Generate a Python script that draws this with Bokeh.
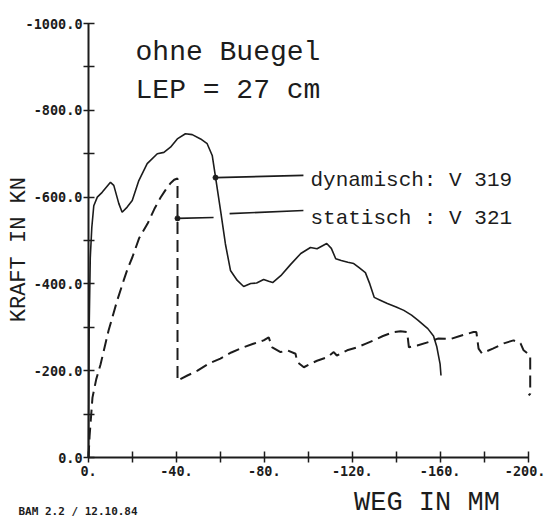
import math
from bokeh.plotting import figure
from bokeh.models import Range1d, FixedTicker, Label
from bokeh.embed import file_html
from bokeh.resources import INLINE

# ---------------- data ----------------
# dynamisch: V 319 (solid)
dyn_x = [0, -0.3, -0.8, -1.5, -2.4, -4.0, -6.2, -10.0, -11.5, -13.8, -15.3, -17.6,
         -19.9, -22.9, -26.7, -31.3, -34.3, -37.3, -40.4, -44.1, -47.2, -51.0,
         -54.0, -56.3, -57.8, -60.1, -62.3, -64.6, -67.7, -70.6, -73.8, -76.5,
         -79.7, -82.0, -83.8, -87.5, -92.0, -96.6, -101.0, -104.0, -108.4,
         -110.5, -112.5, -115.0, -118.0, -120.7, -123.0, -126.0, -128.0, -130.0,
         -133.0, -136.0, -140.0, -143.5, -147.0, -150.0, -154.4, -157.0, -158.5,
         -160.0, -160.4]
dyn_y = [0, -300, -460, -530, -580, -600, -611, -634, -627, -585, -565, -577,
         -592, -638, -677, -700, -703, -715, -734, -746, -744, -734,
         -723, -696, -646, -569, -492, -431, -408, -394, -401, -402,
         -410, -406, -403, -419, -445, -470, -484, -481, -493,
         -482, -458, -454, -450, -447, -438, -426, -400, -369,
         -362, -355, -347, -339, -328, -316, -297, -280, -255,
         -215, -189]

# statisch : V 321 (dashed)
sta_x = [0, -0.5, -1.8, -3.5, -5.5, -9.1, -13.0, -16.0, -17.8, -20.0, -23.0,
         -26.9, -30.0, -32.8, -35.0, -37.3, -39.0, -40.5, -40.5, -41.5, -45.0,
         -49.6, -54.6, -60.0, -65.0, -70.6, -75.0, -79.7, -82.0, -83.6, -87.4,
         -90.4, -94.2, -95.0, -98.0, -101.0, -104.0, -108.6, -111.6, -113.0,
         -117.7, -122.3, -126.0, -129.8, -134.0, -138.8, -142.0, -145.0, -145.8,
         -149.6, -154.7, -159.0, -164.7, -169.0, -172.3, -175.2, -176.5, -177.5,
         -179.0, -184.0, -189.0, -193.4, -196.6, -198.0, -201.0, -201.0, -200.3]
sta_y = [0, -50, -138, -180, -215, -292, -361, -408, -435, -462, -505,
         -539, -573, -599, -616, -632, -640, -643, -177, -180, -189,
         -200, -216, -228, -242, -254, -262, -270, -277, -254, -243,
         -247, -239, -220, -208, -216, -223, -231, -243, -235,
         -247, -254, -262, -270, -280, -289, -291, -289, -254,
         -258, -266, -274, -273, -280, -285, -289, -289, -251,
         -240, -251, -263, -270, -263, -247, -235, -147, -143]

x_ticks = [0, -40, -80, -120, -160, -200]
x_tick_labels = ["0.", "-40.", "-80.", "-120.", "-160.", "-200."]
x_minor = [-20, -60, -100, -140, -180]
y_ticks = [0, -200, -400, -600, -800, -1000]
y_tick_labels = ["0.0", "-200.0", "-400.0", "-600.0", "-800.0", "-1000.0"]
y_minor = [-100, -300, -500, -700, -900]

title_lines = ["ohne Buegel", "LEP = 27 cm"]
legend_texts = ["dynamisch: V 319", "statisch : V 321"]
x_label = "WEG IN MM"
y_label = "KRAFT IN KN"
footer = "BAM 2.2 / 12.10.84"

INK = "#1c1c1c"
PLOT_FONT = "Liberation Mono"
TICK_FONT = "DejaVu Sans Mono"

# ---------------- figure ----------------
# the frame fills the whole canvas; axes are pinned at x=0 / y=0
p = figure(width=545, height=517, output_backend="svg", toolbar_location=None,
           x_range=Range1d(40.05, -207.96), y_range=Range1d(138.2, -1053.0),
           min_border=0)
p.outline_line_color = None
p.grid.visible = False
p.background_fill_color = "white"
p.border_fill_color = "white"

xa = p.xaxis[0]
ya = p.yaxis[0]
xa.fixed_location = 0
ya.fixed_location = 0
xa.ticker = FixedTicker(ticks=x_ticks, minor_ticks=x_minor)
ya.ticker = FixedTicker(ticks=y_ticks, minor_ticks=y_minor)
xa.major_label_overrides = {t: l for t, l in zip(x_ticks, x_tick_labels)}
ya.major_label_overrides = {t: l for t, l in zip(y_ticks, y_tick_labels)}
xa.bounds = (-200, 0)
ya.bounds = (-1000, 0)
for ax in (xa, ya):
    ax.axis_line_color = INK
    ax.axis_line_width = 2
    ax.major_tick_line_color = INK
    ax.minor_tick_line_color = INK
    ax.major_tick_line_width = 1.5
    ax.minor_tick_line_width = 1.5
    ax.major_tick_in = 6
    ax.major_tick_out = 5
    ax.minor_tick_in = 6
    ax.minor_tick_out = 5
    ax.major_label_text_font = TICK_FONT
    ax.major_label_text_font_style = "bold"
    ax.major_label_text_font_size = "13.5px"
    ax.major_label_text_color = INK
xa.major_label_standoff = 3
ya.major_label_standoff = 1

# curves
p.line(dyn_x, dyn_y, line_color=INK, line_width=1.6)
p.line(sta_x, sta_y, line_color=INK, line_width=2, line_dash="12 6")

# legend leaders (annotation marks)
p.line([-57.8, -97.8], [-645, -650], line_color=INK, line_width=1.6)
p.line([-40.5, -56.9], [-551, -553], line_color=INK, line_width=1.6)
p.line([-64.2, -97.8], [-562, -569], line_color=INK, line_width=1.6)
p.scatter([-57.8, -40.5], [-645, -551], size=5, color=INK)

# texts
for txt, yy in zip(title_lines, [-933, -846]):
    p.add_layout(Label(x=-21.4, y=yy, text=txt, text_font=PLOT_FONT,
                       text_font_size="28px", text_color=INK,
                       text_baseline="alphabetic", text_align="left"))
for txt, yy in zip(legend_texts, [-638, -551]):
    p.add_layout(Label(x=-101, y=yy, text=txt, text_font=PLOT_FONT,
                       text_font_size="21px", text_color=INK,
                       text_baseline="alphabetic", text_align="left"))

p.add_layout(Label(x=31.5, y=-479, text=y_label, angle=math.pi / 2,
                   text_font=PLOT_FONT, text_font_size="22px", text_color=INK,
                   text_align="center", text_baseline="middle"))
p.add_layout(Label(x=-154, y=104.5, text=x_label,
                   text_font=PLOT_FONT, text_font_size="27px", text_color=INK,
                   text_align="center", text_baseline="middle"))
p.add_layout(Label(x=31.9, y=110.5, text=footer,
                   text_font=TICK_FONT, text_font_style="bold",
                   text_font_size="11px", text_color=INK,
                   text_align="left", text_baseline="top"))

open("out.html", "w").write(file_html(p, INLINE))
